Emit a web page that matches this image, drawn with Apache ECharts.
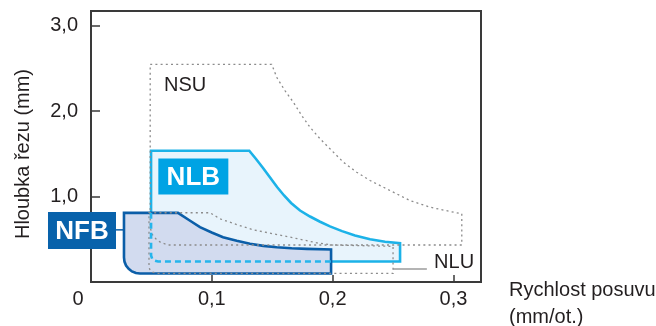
<!DOCTYPE html>
<html>
<head>
<meta charset="utf-8">
<script src="https://cdn.jsdelivr.net/npm/echarts@6/dist/echarts.min.js"></script>
<style>
  html, body { margin: 0; padding: 0; background: #fff; }
  #chart { width: 656px; height: 326px; }
</style>
</head>
<body>
<div id="chart"></div>
<script>
// Axis ticks and labels
const xTickValues = [0.1, 0.2, 0.3];
const xLabelValues = [0, 0.1, 0.2, 0.3];
const yTickValues = [1, 2, 3];

// Application ranges: feed (mm/rev) vs. depth of cut (mm), as outline points
const nsuOutline = [
  [0.049, 2.545], [0.1496, 2.545], [0.1537, 2.395], [0.1606, 2.237], [0.1675, 2.103],
  [0.1744, 1.947], [0.1813, 1.81], [0.1896, 1.675], [0.1978, 1.558], [0.2089, 1.401],
  [0.2199, 1.284], [0.231, 1.187], [0.2475, 1.07], [0.264, 0.953], [0.2806, 0.875],
  [0.2972, 0.825], [0.3069, 0.798], [0.3069, 0.433], [0.064, 0.433], [0.058, 0.46],
  [0.054, 0.5], [0.0505, 0.56], [0.049, 0.64]
];
const nluOutline = [
  [0.048, 0.81], [0.0985, 0.81], [0.1068, 0.739], [0.1206, 0.672], [0.1344, 0.61],
  [0.1509, 0.564], [0.1675, 0.517], [0.1868, 0.458], [0.2006, 0.432], [0.25, 0.417],
  [0.25, 0.1], [0.055, 0.1], [0.051, 0.115], [0.0485, 0.15], [0.048, 0.2]
];
const nlbOutline = [
  [0.0497, 1.535], [0.131, 1.535], [0.1366, 1.439], [0.1424, 1.333], [0.1482, 1.222],
  [0.154, 1.111], [0.1598, 1.012], [0.1656, 0.924], [0.173, 0.836], [0.1813, 0.766],
  [0.1896, 0.705], [0.1978, 0.651], [0.2078, 0.595], [0.2185, 0.544], [0.231, 0.499],
  [0.2434, 0.47], [0.2558, 0.454], [0.2558, 0.24], [0.0555, 0.24],
  [0.051, 0.258], [0.0497, 0.31]
];
const nlbHiddenEdge = [
  [0.0497, 0.81], [0.0497, 0.31], [0.051, 0.258], [0.0555, 0.24], [0.1987, 0.24]
];
const nfbOutline = [
  [0.0273, 0.809], [0.072, 0.809], [0.0817, 0.719], [0.0902, 0.641], [0.0999, 0.579],
  [0.1093, 0.524], [0.1206, 0.482], [0.1316, 0.447], [0.1426, 0.423], [0.1537, 0.407],
  [0.1661, 0.395], [0.1786, 0.388], [0.1987, 0.38], [0.1987, 0.1],
  [0.0405, 0.1], [0.0372, 0.105], [0.0339, 0.124], [0.0312, 0.154], [0.029, 0.193],
  [0.0277, 0.239], [0.0273, 0.287]
];
const nfbConnector = [[0.0207, 0.61], [0.0273, 0.61]];
const nluLeader = [[0.2503, 0.152], [0.278, 0.152]];

const FONT = "'Liberation Sans', Arial, Helvetica, sans-serif";
const TEXT = '#231f20';

function fmt(v) {
  return v === 0 ? '0' : v.toFixed(1).replace('.', ',');
}

// One custom series per outline, projected through the cartesian axes
function outlineSeries(points, style, z, closed) {
  return {
    type: 'custom',
    coordinateSystem: 'cartesian2d',
    silent: true,
    z: z,
    data: [0],
    renderItem: function (params, api) {
      return {
        type: closed ? 'polygon' : 'polyline',
        shape: { points: points.map(function (p) { return api.coord(p); }) },
        style: style
      };
    }
  };
}

function tagSeries(name, anchor, w, h, fill, z) {
  return {
    type: 'custom',
    coordinateSystem: 'cartesian2d',
    silent: true,
    z: z,
    data: [0],
    renderItem: function (params, api) {
      const c = api.coord(anchor);
      return {
        type: 'group',
        children: [
          { type: 'rect', shape: { x: c[0] - w / 2, y: c[1] - h / 2, width: w, height: h },
            style: { fill: fill } },
          { type: 'text', x: c[0], y: c[1] + 1,
            style: { text: name, fill: '#fff', font: 'bold 26px ' + FONT,
                     align: 'center', verticalAlign: 'middle' } }
        ]
      };
    }
  };
}

function plainLabel(name, anchor, z) {
  return {
    type: 'custom',
    coordinateSystem: 'cartesian2d',
    silent: true,
    z: z,
    data: [0],
    renderItem: function (params, api) {
      const c = api.coord(anchor);
      return {
        type: 'text', x: c[0], y: c[1],
        style: { text: name, fill: TEXT, font: '20px ' + FONT,
                 align: 'left', verticalAlign: 'middle' }
      };
    }
  };
}

const dotted = { fill: null, stroke: '#8c8c8c', lineWidth: 1.3, lineDash: [2, 3.2] };

const chart = echarts.init(document.getElementById('chart'), null, { renderer: 'canvas' });
chart.setOption({
  animation: false,
  backgroundColor: '#ffffff',
  grid: {
    left: 91, top: 11, right: 175, bottom: 44,
    containLabel: false, outerBoundsMode: 'none',
    show: true, borderColor: '#3a3a3a', borderWidth: 2, backgroundColor: 'transparent'
  },
  // x-axis title sits to the right of the plot, below the axis line
  graphic: [{
    type: 'text', left: 509, top: 276.5, silent: true,
    style: { text: 'Rychlost posuvu\n(mm/ot.)', font: '20px ' + FONT, fill: TEXT, lineHeight: 27 }
  }],
  xAxis: {
    type: 'value', min: 0, max: 0.3228,
    axisLine: { show: false },
    splitLine: { show: false },
    axisTick: { show: true, inside: true, length: 7, customValues: xTickValues,
                lineStyle: { color: '#3a3a3a', width: 1.5 } },
    axisLabel: {
      customValues: xLabelValues, margin: 7,
      fontFamily: FONT, fontSize: 20, color: TEXT,
      formatter: function (v) { return v === 0 ? '{o|0}' : fmt(v); },
      rich: { o: { fontFamily: FONT, fontSize: 20, color: TEXT, padding: [0, 26, 0, 0] } }
    }
  },
  yAxis: {
    type: 'value', min: 0, max: 3.17,
    name: 'Hloubka řezu (mm)',
    nameLocation: 'middle', nameGap: 58,
    nameTextStyle: { fontFamily: FONT, fontSize: 20, color: TEXT, padding: [0, 15, 0, 0] },
    axisLine: { show: false },
    splitLine: { show: false },
    axisTick: { show: true, inside: true, length: 9, customValues: yTickValues,
                lineStyle: { color: '#3a3a3a', width: 1.5 } },
    axisLabel: {
      customValues: yTickValues, margin: 13,
      fontFamily: FONT, fontSize: 20, color: TEXT,
      formatter: fmt
    }
  },
  series: [
    outlineSeries(nlbOutline, { fill: '#e8f4fc', stroke: '#1cb2e8', lineWidth: 2.6 }, 2, true),
    outlineSeries(nfbOutline, { fill: '#d2dbef', stroke: '#0b5ea8', lineWidth: 2.6 }, 3, true),
    outlineSeries(nsuOutline, dotted, 4, true),
    outlineSeries(nluOutline, dotted, 4, true),
    outlineSeries(nlbHiddenEdge, { fill: null, stroke: '#25b5ec', lineWidth: 2.6, lineDash: [6, 4] }, 5, false),
    outlineSeries(nfbConnector, { fill: null, stroke: '#0b5ea8', lineWidth: 1.5 }, 5, false),
    outlineSeries(nluLeader, { fill: null, stroke: '#6a6a6a', lineWidth: 1.2 }, 5, false),
    tagSeries('NLB', [0.0847, 1.234], 70, 36, '#00a3e4', 6),
    tagSeries('NFB', [-0.00745, 0.602], 68, 37, '#0862ab', 6),
    plainLabel('NSU', [0.0604, 2.298], 6),
    plainLabel('NLU', [0.284, 0.228], 6)
  ]
});
</script>
</body>
</html>
